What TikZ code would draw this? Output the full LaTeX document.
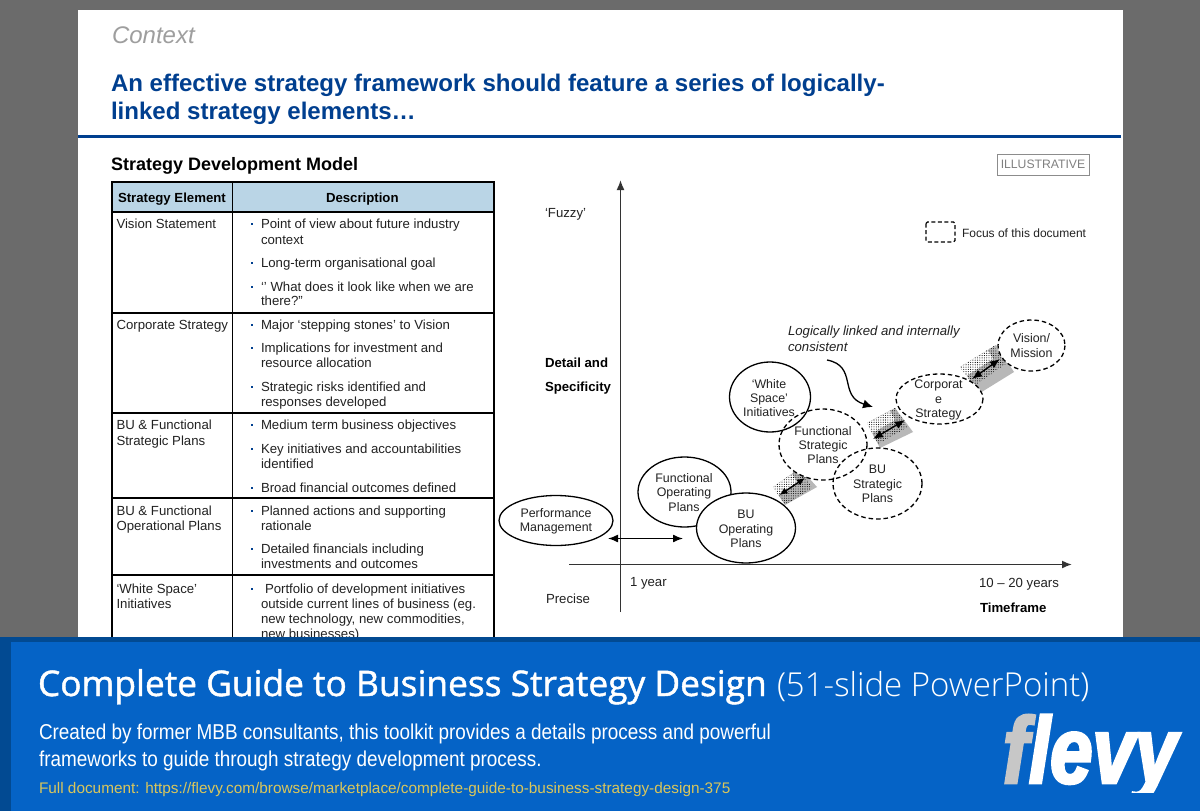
\documentclass[tikz,border=0pt]{standalone}
\usepackage{fontspec}
\setmainfont{Liberation Sans}
\newfontfamily\bannerfont[FakeBold=1.3]{Open Sans}
\newfontfamily\bannerlight{Open Sans Light}
\newfontfamily\bodynarrow[FakeStretch=0.88]{Liberation Sans}
\newfontfamily\flevyfont[FakeBold=3,FakeStretch=0.81]{Liberation Sans Bold Italic}
\usetikzlibrary{arrows.meta,patterns.meta}
\definecolor{pagegray}{HTML}{6B6B6B}
\definecolor{titleblue}{HTML}{003F8F}
\definecolor{headblue}{HTML}{BAD5E6}
\definecolor{bannerblue}{HTML}{0563C6}
\definecolor{bannerdark}{HTML}{024A92}
\definecolor{linkgold}{HTML}{D9C65C}
\definecolor{txt}{HTML}{222222}
\newcounter{tn}
\newcommand{\fs}[1]{\fontsize{#1}{#1}\selectfont}
\newcommand{\tx}[4][]{\stepcounter{tn}\node[lbl,#1] (t\arabic{tn}) at (#2,#3) {#4};}
\newcommand{\bl}[3]{\stepcounter{tn}\node[bulletdot] (t\arabic{tn}) at (251.5,#1) {}; \tx{261+#3}{#1}{#2}}
\tikzset{
  x=1pt,y=-1pt,
  lbl/.style={anchor=base west,inner sep=0pt,outer sep=0pt,text=txt,font=\fs{13.2}},
  bulletdot/.style={fill=titleblue,inner sep=0pt,minimum size=2pt,shift={(0,4.5pt)}},
  rule/.style={black,line width=1.8pt},
  solidoval/.style={draw=black,line width=1.3pt},
  dashoval/.style={draw=black,line width=1.3pt,dash pattern=on 4.5pt off 3pt},
  ovaltxt/.style={inner sep=0pt,align=center,text=txt,font=\fontsize{12.4}{14.4}\selectfont},
  dbl/.style={{Latex[length=10pt,width=8pt]}-{Latex[length=10pt,width=8pt]},line width=1.4pt,black},
  axis/.style={-{Latex[length=10pt,width=8pt]},line width=1.6pt,draw=black!80},
  patchd/.style={pattern={Dots[radius=0.55pt,distance=2.3pt]},pattern color=black},
}
\begin{document}
\begin{tikzpicture}
\useasboundingbox (0,0) rectangle (1200,811);
\fill[pagegray] (0,0) rectangle (1200,811);
\fill[white] (78,10) rectangle (1123,640);
% heading
\tx[text=black!38,font=\fs{24}\itshape]{112}{43}{Context}
\tx[text=titleblue,font=\fs{24.05}\bfseries]{111}{91}{An effective strategy framework should feature a series of logically-}
\tx[text=titleblue,font=\fs{24.05}\bfseries]{111}{119}{linked strategy elements…}
\fill[titleblue] (78,134.5) rectangle (1121,137.5);
\tx[text=black,font=\fs{18}\bfseries]{111}{170}{Strategy Development Model}
\node[draw=black!45,line width=.8pt,minimum width=92pt,minimum height=21pt,inner sep=0pt,text=black!50,font=\fs{12.2}] (illus) at (1043,164.5) {ILLUSTRATIVE};
% table
\fill[headblue] (112,182) rectangle (494,212);
\draw[rule] (112,182) -- (494,182);
\draw[rule] (112,212) -- (494,212);
\draw[rule] (112,313) -- (494,313);
\draw[rule] (112,413) -- (494,413);
\draw[rule] (112,498) -- (494,498);
\draw[rule] (112,575) -- (494,575);
\draw[rule] (112,181) -- (112,640);
\draw[rule] (232.5,181) -- (232.5,640);
\draw[rule] (494,181) -- (494,640);
\tx[text=black,font=\fs{13.2}\bfseries]{118}{202}{Strategy Element}
\tx[text=black,font=\fs{13.2}\bfseries]{326}{202}{Description}
\tx{116.5}{228}{Vision Statement}
\bl{228}{Point of view about future industry}{0}
\tx{261}{244}{context}
\bl{267}{Long-term organisational goal}{0}
\bl{291}{‘’ What does it look like when we are}{0}
\tx{261}{305}{there?”}
\tx{116.5}{329}{Corporate Strategy}
\bl{329}{Major ‘stepping stones’ to Vision}{0}
\bl{352}{Implications for investment and}{0}
\tx{261}{367}{resource allocation}
\bl{391}{Strategic risks identified and}{0}
\tx{261}{406}{responses developed}
\tx{116.5}{429}{BU \& Functional}
\tx{116.5}{445}{Strategic Plans}
\bl{429}{Medium term business objectives}{0}
\bl{453}{Key initiatives and accountabilities}{0}
\tx{261}{468}{identified}
\bl{492}{Broad financial outcomes defined}{0}
\tx{116.5}{515}{BU \& Functional}
\tx{116.5}{530}{Operational Plans}
\bl{515}{Planned actions and supporting}{0}
\tx{261}{530}{rationale}
\bl{553}{Detailed financials including}{0}
\tx{261}{568}{investments and outcomes}
\tx{116.5}{593}{‘White Space’}
\tx{116.5}{608}{Initiatives}
\bl{593}{Portfolio of development initiatives}{4}
\tx{261}{608}{outside current lines of business (eg.}
\tx{261}{623}{new technology, new commodities,}
\tx{261}{638}{new businesses)}
% axes
\coordinate (yb) at (620.5,612); \coordinate (yt) at (620.5,180);
\coordinate (xl) at (569,564.5); \coordinate (xr) at (1072,564.5);
\draw[axis] (yb) -- (yt);
\draw[axis] (xl) -- (xr);
% patches
\fill[black!28] (773,487) -- (800,468) -- (817,487) -- (785,505) -- cycle;
\fill[white] (773,487) -- (792,474) -- (797,482) -- (778,495) -- cycle;
\fill[patchd] (773,487) -- (800,468) -- (812,488) -- (785,505) -- cycle;
\fill[black!28] (867,423) -- (895,408) -- (913,432) -- (880,448) -- cycle;
\fill[white] (867,423) -- (890,411) -- (895,420) -- (872,433) -- cycle;
\fill[patchd] (867,423) -- (895,408) -- (908,427) -- (878,444) -- cycle;
\fill[black!28] (960,367) -- (996,345) -- (1014,372) -- (980,393) -- cycle;
\fill[white] (960,367) -- (988,350) -- (993,359) -- (966,376) -- cycle;
\fill[patchd] (960,367) -- (994,346) -- (1006,364) -- (974,386) -- cycle;
% ovals
\path[fill=white] (684.5,492) ellipse [x radius=46.5,y radius=35];
\path[fill=white] (770,397) ellipse [x radius=40.5,y radius=35];
\path[fill=white] (823,444.5) ellipse [x radius=44,y radius=35.5];
\path[fill=white] (877.5,483.5) ellipse [x radius=44.5,y radius=35.5];
\path[fill=white] (939.5,399) ellipse [x radius=43.5,y radius=25];
\path[fill=white] (1031.5,345.5) ellipse [x radius=33.5,y radius=25.5];
\draw[solidoval,fill=white] (556,520.5) ellipse [x radius=57,y radius=25];
\draw[solidoval] (684.5,492) ellipse [x radius=46.5,y radius=35];
\draw[solidoval,fill=white] (746,528) ellipse [x radius=49.5,y radius=35];
\draw[solidoval] (770,397) ellipse [x radius=40.5,y radius=35];
\draw[dashoval] (823,444.5) ellipse [x radius=44,y radius=35.5];
\draw[dashoval] (877.5,483.5) ellipse [x radius=44.5,y radius=35.5];
\draw[dashoval] (939.5,399) ellipse [x radius=43.5,y radius=25];
\draw[dashoval] (1031.5,345.5) ellipse [x radius=33.5,y radius=25.5];
\node[ovaltxt] (perf) at (556,521) {Performance\\Management};
\node[ovaltxt] (fop) at (684,492.5) {Functional\\Operating\\Plans};
\node[ovaltxt] (buop) at (746,529) {BU\\Operating\\Plans};
\node[ovaltxt] (white) at (769,398) {‘White\\Space’\\Initiatives};
\node[ovaltxt] (fstr) at (823,445) {Functional\\Strategic\\Plans};
\node[ovaltxt] (bustr) at (877.5,484) {BU\\Strategic\\Plans};
\node[ovaltxt] (corp) at (938.5,400) {Corporat\\e\\Strategy};
\node[ovaltxt] (vis) at (1031.5,345.5) {Vision/\\Mission};
% arrows
\coordinate (a1) at (608,538.5); \coordinate (a2) at (683,538.5);
\draw[dbl] (a1) -- (a2);
\coordinate (b1) at (779.5,495); \coordinate (b2) at (805,478);
\draw[dbl,{Latex[length=8pt,width=7pt]}-{Latex[length=8pt,width=7pt]}] (b1) -- (b2);
\coordinate (c1) at (873,439); \coordinate (c2) at (905,420);
\draw[dbl] (c1) -- (c2);
\coordinate (d1) at (972,379); \coordinate (d2) at (1000,359);
\draw[dbl] (d1) -- (d2);
\coordinate (e1) at (827,360); \coordinate (e2) at (873,407);
\draw[-{Latex[length=10pt,width=9pt]},line width=1.3pt,black] (e1) .. controls (858,366) and (838,396) .. (e2);
% labels
\tx{545}{217}{‘Fuzzy’}
\tx[text=black,font=\fs{13.2}\bfseries]{545}{367}{Detail and}
\tx[text=black,font=\fs{13.2}\bfseries]{545}{391}{Specificity}
\tx{546}{603}{Precise}
\tx{630}{586}{1 year}
\tx{979}{587}{10 – 20 years}
\tx[text=black,font=\fs{13.2}\bfseries]{980}{612}{Timeframe}
\tx[font=\fs{13.2}\itshape]{788}{335}{Logically linked and internally}
\tx[font=\fs{13.2}\itshape]{788}{351}{consistent}
\draw[line width=1.2pt,black,dash pattern=on 4pt off 2.5pt,rounded corners=1.5pt] (926,222) rectangle (955,242);
\tx[font=\fs{12}]{962}{237}{Focus of this document}
% banner
\fill[bannerdark] (0,637) rectangle (1200,811);
\fill[bannerblue] (11,642) rectangle (1200,811);
\tx[text=white,font=\bannerfont\fs{35.3}]{38}{696}{Complete Guide to Business Strategy Design}
\tx[text=white,font=\bannerlight\fs{33}]{777}{696}{(51-slide PowerPoint)}
\tx[text=white,font=\bodynarrow\fs{21.5}]{39}{739}{Created by former MBB consultants, this toolkit provides a details process and powerful}
\tx[text=white,font=\bodynarrow\fs{21.5}]{39}{766}{frameworks to guide through strategy development process.}
\tx[text=linkgold,font=\fs{15.35}]{39}{793}{Full document: https://flevy.com/browse/marketplace/complete-guide-to-business-strategy-design-375}
\begin{scope}
\clip (995,700) rectangle (1190,792);
\tx[text=black!22,font=\flevyfont\fs{94}]{1003}{783}{f}
\tx[text=white,font=\flevyfont\fs{94}]{1029}{783}{levy}
\end{scope}
\end{tikzpicture}
\end{document}
